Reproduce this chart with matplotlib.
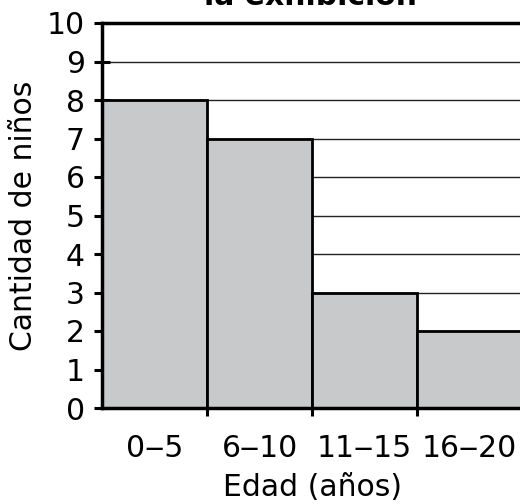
import matplotlib
matplotlib.use("Agg")
import matplotlib.pyplot as plt

categories = ["0‒5", "6‒10", "11‒15", "16‒20"]
counts = [8, 7, 3, 2]
y_ticks = [0, 1, 2, 3, 4, 5, 6, 7, 8, 9, 10]
title = "Edades de los niños en\nla exhibición"
xlabel = "Edad (años)"
ylabel = "Cantidad de niños"

plt.rcParams['font.family'] = ['DejaVu Sans']
fs = 21.5

fig = plt.figure(figsize=(5.2, 5.04), dpi=100)
ax = fig.add_axes([102/520, 1 - 408/504, 1 - 102/520 + 0.004, (408 - 23)/504])

pos = [i + 0.5 for i in range(len(categories))]
ax.bar(pos, counts, width=1.0, color="#c8c9cb", edgecolor="black", linewidth=2, zorder=3)

ax.set_xlim(0, 4.0)
ax.set_ylim(0, 10)
ax.set_yticks(y_ticks)
ax.yaxis.grid(True, color="#222222", linewidth=1.0, zorder=0)
ax.set_axisbelow(True)

ax.set_xticks(pos)
ax.set_xticklabels(categories)
ax.set_xticks([1, 2, 3], minor=True)
ax.tick_params(axis='x', which='major', length=0, pad=19, labelsize=fs)
ax.tick_params(axis='x', which='minor', length=6, width=2.2, direction='out')
ax.tick_params(axis='y', which='major', length=11, width=2.2, direction='inout', pad=7, labelsize=fs)

for s in ['left', 'bottom', 'top']:
    ax.spines[s].set_linewidth(2.5)
    ax.spines[s].set_zorder(5)
ax.spines['right'].set_visible(False)

ax.set_xlabel(xlabel, fontsize=fs, labelpad=7)
ax.set_ylabel(ylabel, fontsize=fs, labelpad=6)

fig.text(0.598, 1 - 5/504, title, ha='center', va='baseline', fontsize=fs,
         fontweight='bold', linespacing=1.1)

fig.savefig("out.png", dpi=100)
